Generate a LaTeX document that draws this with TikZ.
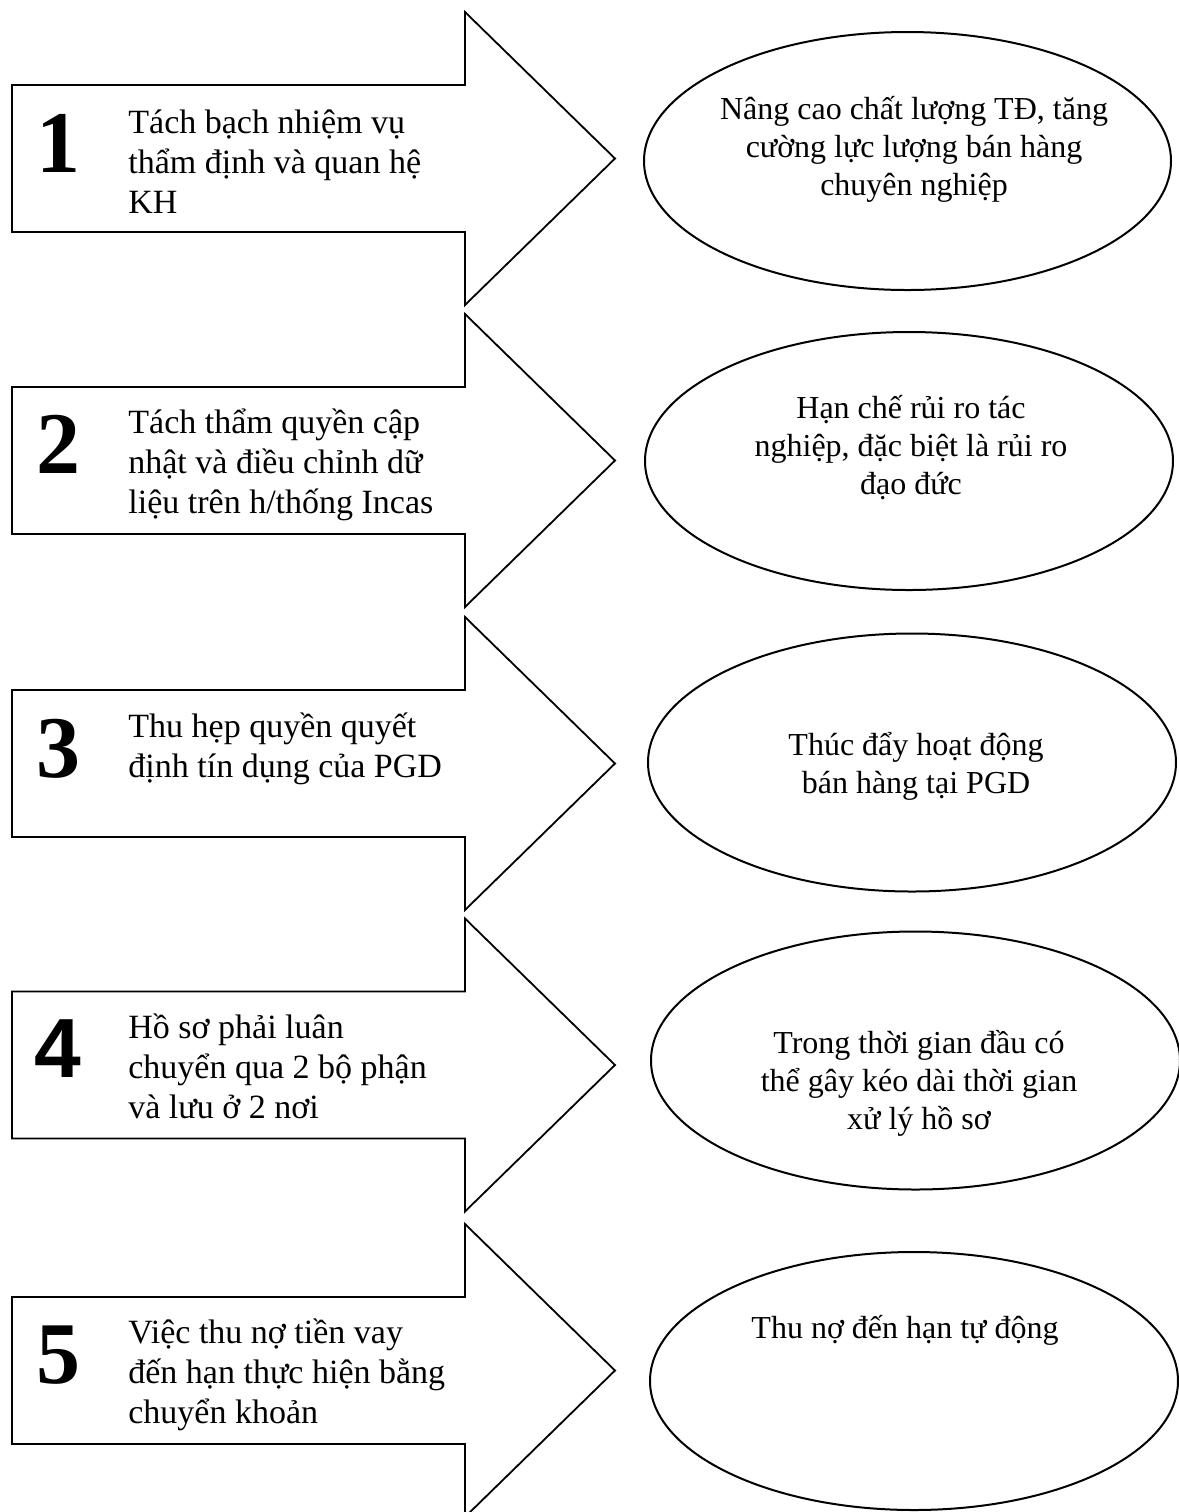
\documentclass[tikz,border=0pt]{standalone}
\usepackage{fontspec}
\setmainfont{Liberation Serif}
\newfontfamily\digitsans{Liberation Sans}
\usetikzlibrary{shapes.geometric}

% stacked lines with a fixed baseline distance; the box baseline is the first line
\newcommand\linesL[1]{\vtop{\lineskiplimit=-\maxdimen\halign{##\hfil\cr#1\crcr}}}
\newcommand\linesC[1]{\vtop{\lineskiplimit=-\maxdimen\halign{\hfil##\hfil\cr#1\crcr}}}

\begin{document}
\begin{tikzpicture}[x=0.5pt,y=-0.5pt,
  blockarrow/.style={draw=black, line width=0.9pt, line join=miter, fill=white},
  oval/.style={ellipse, draw=black, line width=1pt, inner sep=0pt,
               minimum width=264pt, minimum height=129pt},
  numlabel/.style={anchor=base, inner sep=0pt,
                   font=\fontsize{44pt}{44pt}\selectfont\bfseries},
  steptext/.style={anchor=base west, inner sep=0pt,
                   font=\fontsize{17pt}{20pt}\selectfont},
  resulttext/.style={anchor=base, inner sep=0pt,
                     font=\fontsize{16pt}{19pt}\selectfont}]
\useasboundingbox (0,0) rectangle (1179,1512);

% block arrows, one per measure
\foreach \cy in {158.5,460.5,763.5,1065,1370.5}{
  \draw[blockarrow] (12,\cy-73.5) -- (465,\cy-73.5) -- (465,\cy-146.5)
    -- (615,\cy) -- (465,\cy+146.5) -- (465,\cy+73.5) -- (12,\cy+73.5) -- cycle;
}

% step numbers
\node[numlabel] (n1) at (58,172) {1};
\node[numlabel] (n2) at (58,473) {2};
\node[numlabel] (n3) at (58,777) {3};
\node[numlabel, font=\fontsize{42pt}{42pt}\selectfont\digitsans\bfseries] (n4) at (58,1077) {4};
\node[numlabel] (n5) at (58,1383) {5};

% measures
\node[steptext] (s1) at (128,133) {\linesL{Tách bạch nhiệm vụ\cr thẩm định và quan hệ\cr KH}};
\node[steptext] (s2) at (128,433) {\linesL{Tách thẩm quyền cập\cr nhật và điều chỉnh dữ\cr liệu trên h/thống Incas}};
\node[steptext] (s3) at (128,737) {\linesL{Thu hẹp quyền quyết\cr định tín dụng của PGD}};
\node[steptext] (s4) at (128,1038) {\linesL{Hồ sơ phải luân\cr chuyển qua 2 bộ phận\cr và lưu ở 2 nơi}};
\node[steptext] (s5) at (128,1343) {\linesL{Việc thu nợ tiền vay\cr đến hạn thực hiện bằng\cr chuyển khoản}};

% outcomes
\node[oval, minimum width=263.5pt] (r1) at (907.5,161) {};
\node[oval] (r2) at (909,461) {};
\node[oval] (r3) at (912,762.5) {};
\node[oval, minimum width=264.5pt] (r4) at (915.5,1060.5) {};
\node[oval] (r5) at (914,1381) {};

\node[resulttext] (o1) at (914,119) {\linesC{Nâng cao chất lượng TĐ, tăng\cr cường lực lượng bán hàng\cr chuyên nghiệp}};
\node[resulttext] (o2) at (911,418) {\linesC{Hạn chế rủi ro tác\cr nghiệp, đặc biệt là rủi ro\cr đạo đức}};
\node[resulttext] (o3) at (916,755) {\linesC{Thúc đẩy hoạt động\cr bán hàng tại PGD}};
\node[resulttext] (o4) at (919,1053) {\linesC{Trong thời gian đầu có\cr thể gây kéo dài thời gian\cr xử lý hồ sơ}};
\node[resulttext] (o5) at (905,1338) {\linesC{Thu nợ đến hạn tự động}};
\end{tikzpicture}
\end{document}
